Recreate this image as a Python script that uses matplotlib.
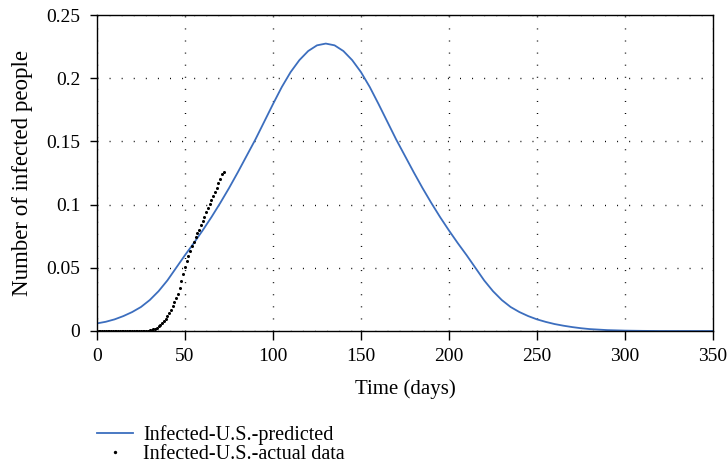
import matplotlib
matplotlib.use("Agg")
import matplotlib.pyplot as plt

plt.rcParams['font.family'] = ['Liberation Serif', 'DejaVu Serif']
plt.rcParams['font.size'] = 14

# predicted curve, every 5 days
pred_days = [0, 5, 10, 15, 20, 25, 30, 35, 40, 45, 50, 55, 60, 65, 70, 75,
             80, 85, 90, 95, 100, 105, 110, 115, 120, 125, 130, 135, 140,
             145, 150, 155, 160, 165, 170, 175, 180, 185, 190, 195, 200,
             205, 210, 215, 220, 225, 230, 235, 240, 245, 250, 255, 260,
             265, 270, 275, 280, 290, 300, 310, 320, 350]
pred_vals = [0.0060, 0.0073, 0.0092, 0.0118, 0.0150, 0.0190, 0.0245, 0.0315,
             0.0400, 0.0500, 0.0600, 0.0695, 0.0795, 0.0900, 0.1012, 0.1130,
             0.1255, 0.1385, 0.1515, 0.1655, 0.1795, 0.1930, 0.2048, 0.2143,
             0.2215, 0.2260, 0.2274, 0.2260, 0.2215, 0.2143, 0.2048, 0.1930,
             0.1795, 0.1655, 0.1515, 0.1385, 0.1255, 0.1130, 0.1012, 0.0900,
             0.0795, 0.0695, 0.0600, 0.0500, 0.0400, 0.0315, 0.0245, 0.0190,
             0.0150, 0.0118, 0.0092, 0.0072, 0.0055, 0.0042, 0.0031, 0.0022,
             0.0015, 0.0007, 0.0003, 0.0001, 0.0, 0.0]

# actual data, one dot per day
act_days = list(range(0, 73))
act_vals = [0.0] * 26 + [
    0.0001, 0.0001, 0.0002, 0.0003, 0.0005, 0.0008, 0.0013, 0.0019, 0.0027,
    0.0037, 0.0049, 0.0063, 0.0079, 0.0097, 0.0117, 0.0140, 0.0166, 0.0195,
    0.0226, 0.0260, 0.0296, 0.0340, 0.0395, 0.0450, 0.0505, 0.0550, 0.0592,
    0.0633, 0.0672, 0.0705, 0.0740, 0.0772, 0.0803, 0.0835, 0.0868, 0.0902,
    0.0938, 0.0972, 0.1005, 0.1040, 0.1070, 0.1100, 0.1135, 0.1170, 0.1205,
    0.1245, 0.1255]

xticks = [0, 50, 100, 150, 200, 250, 300, 350]
yticks = [0, 0.05, 0.1, 0.15, 0.2, 0.25]
ytick_labels = ['0', '0.05', '0.1', '0.15', '0.2', '0.25']

fig = plt.figure(figsize=(7.28, 4.66), dpi=100)
ax = fig.add_axes([0.1332, 0.2897, 0.8462, 0.6781])

ax.plot(pred_days, pred_vals, color='#3C6EBE', lw=1.3,
        solid_joinstyle='round', label='Infected-U.S.-predicted')
ax.plot(act_days, act_vals, 'o', color='black', ms=2.2, mew=0,
        label='Infected-U.S.-actual data')

ax.set_xlim(0, 350)
ax.set_ylim(0, 0.25)
ax.set_xticks(xticks)
ax.set_yticks(yticks)
ax.set_yticklabels(ytick_labels)
ax.tick_params(axis='x', direction='out', length=6.5, width=1, pad=5.5)
ax.tick_params(axis='y', direction='out', length=5, width=1, pad=7)
ax.grid(True, color='black', lw=1, linestyle=(0, (0.7, 8)))
for s in ax.spines.values():
    s.set_linewidth(1)

ax.set_xlabel('Time (days)', fontsize=15)
ax.xaxis.set_label_coords(0.5, -0.153)
ax.set_ylabel('Number of infected people', fontsize=16.5)
ax.yaxis.set_label_coords(-0.104, 0.5)

fig.legend(loc='upper left', bbox_to_anchor=(0.1332, 0.088),
           frameon=False, fontsize=14.5, handlelength=1.8, handletextpad=0.5,
           labelspacing=0.0, borderpad=0, borderaxespad=0, markerscale=1.1)

fig.savefig('out.png', dpi=100)
